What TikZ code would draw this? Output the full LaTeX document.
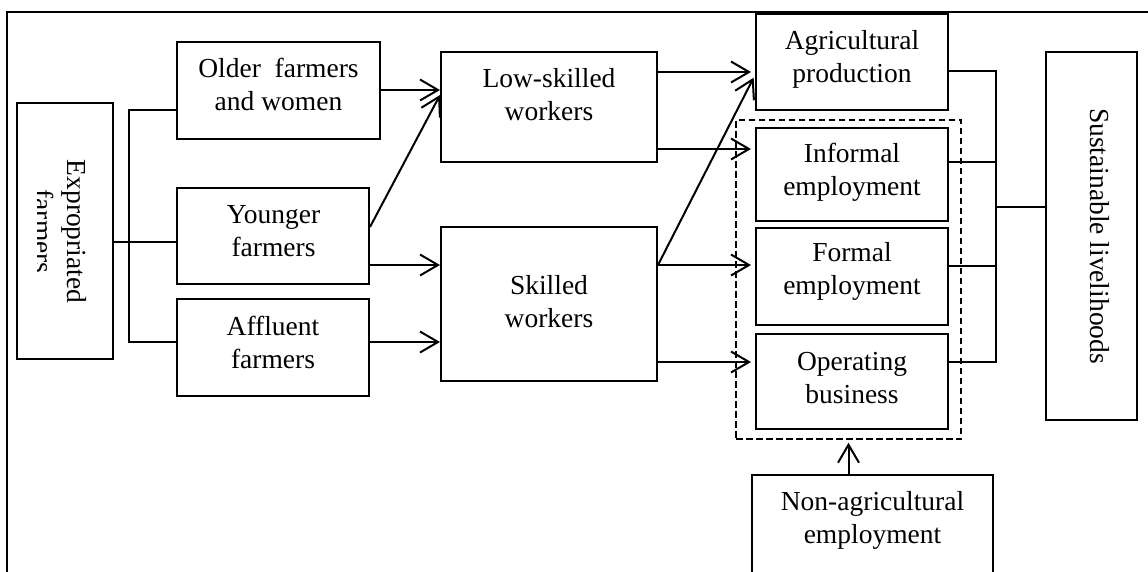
\documentclass[tikz,border=0pt]{standalone}
\usepackage{fontspec}
\setmainfont{Liberation Serif}
\usetikzlibrary{arrows.meta}
\begin{document}
\begin{tikzpicture}[x=1pt,y=-1pt,
  box/.style={draw, line width=2pt, inner sep=0pt},
  dbox/.style={draw, line width=1.5pt, dash pattern=on 6.5pt off 3.5pt, inner sep=0pt},
  txt/.style={font=\fontsize{27.5}{33}\selectfont, align=center, inner sep=0pt},
  arr/.style={line width=2pt, -{Straight Barb[length=18pt,width=21pt]}},
  conn/.style={line width=1.5pt}]
\clip (0,0) rectangle (1148,571);
% frame
\draw[line width=1.8pt] (7,600) -- (7,12) -- (1170,12);
% boxes
\node[box, minimum width=96pt, minimum height=256pt] (exprop) at (65,231) {};
\node[box, minimum width=203pt, minimum height=97pt] (older) at (278.5,90.5) {};
\node[box, minimum width=192pt, minimum height=96pt] (younger) at (273,236) {};
\node[box, minimum width=192pt, minimum height=97pt] (affluent) at (273,347.5) {};
\node[box, minimum width=216pt, minimum height=110pt] (low) at (549,107) {};
\node[box, minimum width=216pt, minimum height=154pt] (skilled) at (549,304) {};
\node[box, minimum width=192pt, minimum height=96pt] (agri) at (852,62) {};
\node[box, minimum width=192pt, minimum height=93pt] (informal) at (852,174.5) {};
\node[box, minimum width=192pt, minimum height=97pt] (formal) at (852,276.5) {};
\node[box, minimum width=192pt, minimum height=95pt] (operating) at (852,381.5) {};
\node[dbox, minimum width=225pt, minimum height=319pt] (nonagrp) at (848.5,279.5) {};
\node[box, minimum width=91pt, minimum height=368pt] (sust) at (1091.5,236) {};
\node[box, minimum width=241pt, minimum height=115pt] (nonagri) at (872.5,532.5) {};
% texts
\begin{scope}
\clip (37.5,100) rectangle (113,362);
\node[txt, rotate=-90] (exprop-t) at (58,231.5) {\strut Expropriated\\\strut farmers};
\end{scope}
\node[txt] (older-t) at (278.5,87.4) {\strut Older\ \ farmers\\\strut and women};
\node[txt] (younger-t) at (273.5,233.4) {\strut Younger\\\strut farmers};
\node[txt] (affluent-t) at (273,345) {\strut Affluent\\\strut farmers};
\node[txt] (low-t) at (549,97.4) {\strut Low-skilled\\\strut workers};
\node[txt] (skilled-t) at (549,304) {\strut Skilled\\\strut workers};
\node[txt] (agri-t) at (852,59.4) {\strut Agricultural\\\strut production};
\node[txt] (informal-t) at (852,172.5) {\strut Informal\\\strut employment};
\node[txt] (formal-t) at (852,271) {\strut Formal\\\strut employment};
\node[txt] (operating-t) at (852,380.5) {\strut Operating\\\strut business};
\node[txt] (nonagri-t) at (872.5,520.5) {\strut Non-agricultural\\\strut employment};
\node[txt, rotate=-90] (sust-t) at (1097.5,236) {\strut Sustainable livelihoods};
% bus points
\coordinate (lbus) at (129,242);
\coordinate (rbus) at (996,207);
% left connectors
\draw[conn] ([yshift=-19.5pt]older.west) -| (lbus);
\draw[conn] ([yshift=5.5pt]affluent.west) -| (lbus);
\draw[conn] ([yshift=-11pt]exprop.east) -- ([yshift=-6pt]younger.west);
% arrows to workers
\draw[arr] ([yshift=0.5pt]older.east) -- ([yshift=0.5pt]older.east -| low.west);
\draw[arr] ([yshift=9pt]younger.east) -- ([yshift=12pt]low.west);
\draw[arr] ([yshift=-29pt]younger.east) -- ([yshift=39pt]skilled.west);
\draw[arr] ([yshift=5.5pt]affluent.east) -- ([yshift=-38pt]skilled.west);
% arrows to outcomes
\draw[arr, shorten >=4pt] ([yshift=35pt]low.east) -- ([yshift=-10pt]agri.west);
\draw[arr, shorten >=4pt] ([yshift=-42pt]low.east) -- ([yshift=25.5pt]informal.west);
\draw[arr, shorten >=3pt] ([yshift=39pt]skilled.east) -- ([yshift=-13pt]agri.west);
\draw[arr, shorten >=4pt] ([yshift=39pt]skilled.east) -- ([yshift=11.5pt]formal.west);
\draw[arr, shorten >=4pt] ([yshift=-58pt]skilled.east) -- ([yshift=19.5pt]operating.west);
% right connectors
\draw[conn] ([yshift=-9pt]agri.east) -| (rbus);
\draw[conn] ([yshift=12.5pt]informal.east) -| (rbus);
\draw[conn] ([yshift=10.5pt]formal.east) -| (rbus);
\draw[conn] ([yshift=19.5pt]operating.east) -| (rbus);
\draw[conn] (rbus) -- (rbus -| sust.west);
% non-agricultural arrow
\draw[arr, shorten >=3pt] (nonagrp.south |- nonagri.north) -- (nonagrp.south);
\end{tikzpicture}
\end{document}
